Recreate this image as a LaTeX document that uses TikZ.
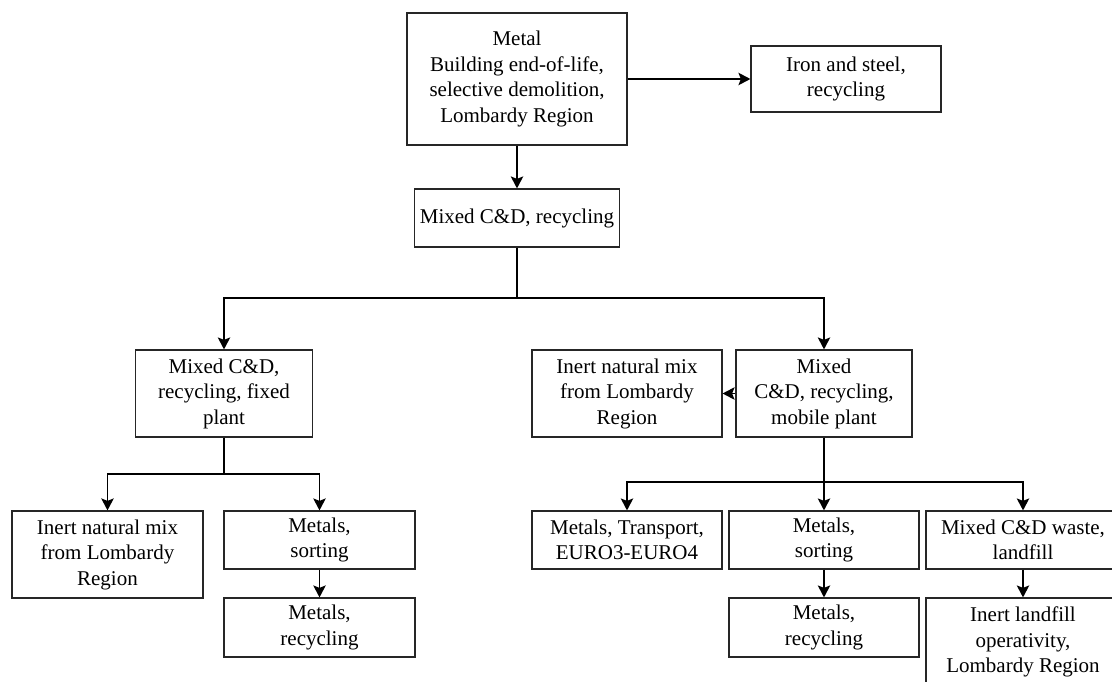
\documentclass[tikz,border=0pt]{standalone}
\usepackage{fontspec}
\setmainfont{Liberation Serif}
\usetikzlibrary{arrows.meta}
\tikzset{
  box/.style={draw=black!85, line width=1.2pt, rectangle, inner sep=0pt, align=center,
    font=\fontsize{21}{25.5}\selectfont, text=black},
  conn/.style={draw=black, line width=1.3pt},
  arr/.style={conn, -{Stealth[length=12pt,width=12.5pt,inset=2.5pt]}},
}
\begin{document}
\begin{tikzpicture}[x=1pt,y=-1pt]
\clip (0,0) rectangle (1112,682);
\fill[white] (0,0) rectangle (1112,682);
% nodes
\node[box, minimum width=220pt, minimum height=132pt] (top) at (517,79)
  {Metal\\Building end-of-life,\\selective demolition,\\Lombardy Region};
\node[box, minimum width=190pt, minimum height=66pt] (iron) at (846,79)
  {Iron and steel,\\recycling};
\node[box, minimum width=205pt, minimum height=58pt] (mix) at (517,218)
  {Mixed C\&D, recycling};
\node[box, minimum width=177pt, minimum height=87pt] (fixed) at (224,393.5)
  {Mixed C\&D,\\recycling, fixed\\plant};
\node[box, minimum width=176pt, minimum height=87pt] (mobile) at (824,393.5)
  {Mixed\\C\&D, recycling,\\mobile plant};
\node[box, minimum width=190pt, minimum height=87pt] (inertR) at (627,393.5)
  {Inert natural mix\\from Lombardy\\Region};
\node[box, minimum width=191pt, minimum height=87pt] (inertL) at (107.5,554.5)
  {Inert natural mix\\from Lombardy\\Region};
\node[box, minimum width=191pt, minimum height=58pt] (sortL) at (319.5,540)
  {Metals,\\sorting};
\node[box, minimum width=191pt, minimum height=59pt] (recL) at (319.5,627.5)
  {Metals,\\recycling};
\node[box, minimum width=190pt, minimum height=58pt] (transp) at (627,540)
  {Metals, Transport,\\EURO3-EURO4};
\node[box, minimum width=190pt, minimum height=58pt] (sortR) at (824,540)
  {Metals,\\sorting};
\node[box, minimum width=190pt, minimum height=59pt] (recR) at (824,627.5)
  {Metals,\\recycling};
\node[box, minimum width=194pt, minimum height=58pt] (waste) at (1023,540)
  {Mixed C\&D waste,\\landfill};
\node[box, minimum width=194pt, minimum height=88pt] (landf) at (1023,642)
  {Inert landfill\\operativity,\\Lombardy Region};
% junction levels
\coordinate (j1) at (0,298);
\coordinate (j2) at (0,474);
\coordinate (j3) at (0,482);
% connectors
\draw[arr] (top.east) -- (iron.west);
\draw[arr] (top.south) -- (mix.north);
\draw[conn] (mix.south) -- (mix.south |- j1);
\draw[arr] (mix.south |- j1) -| (fixed.north);
\draw[arr] (mix.south |- j1) -| (mobile.north);
\draw[conn] (fixed.south) -- (fixed.south |- j2);
\draw[arr] (fixed.south |- j2) -| (inertL.north);
\draw[arr] (fixed.south |- j2) -| (sortL.north);
\draw[arr] (sortL.south) -- (recL.north);
\draw[arr] (mobile.west) -- (inertR.east);
\draw[conn] (mobile.south) -- (mobile.south |- j3);
\draw[arr] (mobile.south |- j3) -| (transp.north);
\draw[arr] (mobile.south |- j3) -- (sortR.north);
\draw[arr] (mobile.south |- j3) -| (waste.north);
\draw[arr] (sortR.south) -- (recR.north);
\draw[arr] (waste.south) -- (landf.north);
\end{tikzpicture}
\end{document}
